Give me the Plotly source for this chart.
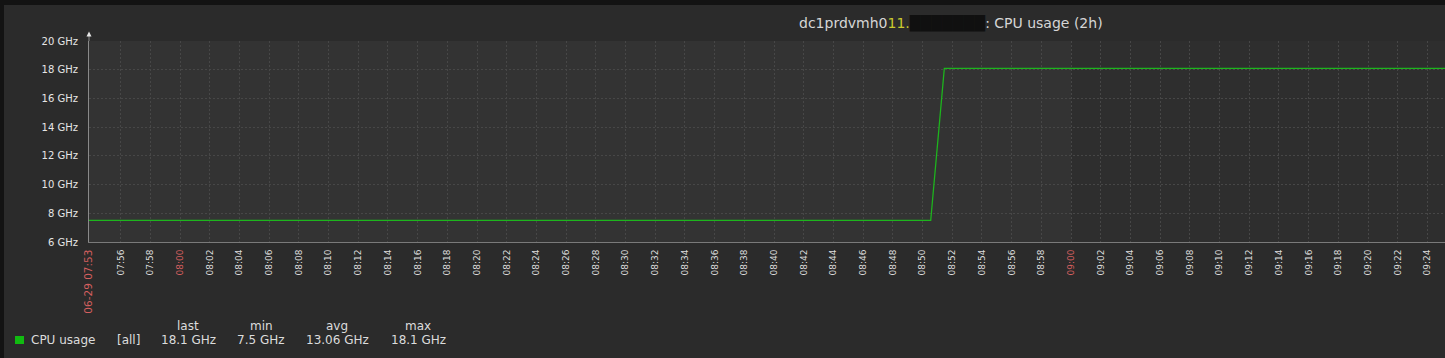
import plotly.graph_objects as go

# ---------------- data ----------------
times = ["2023-06-29 07:53:52", "2023-06-29 08:50:33", "2023-06-29 08:51:28", "2023-06-29 09:53:52"]
cpu_ghz = [7.5, 7.5, 18.1, 18.1]

y_ticks = [6, 8, 10, 12, 14, 16, 18, 20]
y_labels = ["6 GHz", "8 GHz", "10 GHz", "12 GHz", "14 GHz", "16 GHz", "18 GHz", "20 GHz"]

x_tick_times = ["07:53:52", "07:56", "07:58", "08:00", "08:02", "08:04", "08:06", "08:08", "08:10",
                "08:12", "08:14", "08:16", "08:18", "08:20", "08:22", "08:24", "08:26", "08:28",
                "08:30", "08:32", "08:34", "08:36", "08:38", "08:40", "08:42", "08:44", "08:46",
                "08:48", "08:50", "08:52", "08:54", "08:56", "08:58", "09:00", "09:02", "09:04",
                "09:06", "09:08", "09:10", "09:12", "09:14", "09:16", "09:18", "09:20", "09:22",
                "09:24"]
x_tick_labels = ["06-29 07:53"] + x_tick_times[1:]
highlight_labels = ["06-29 07:53", "08:00", "09:00"]

x_range = ["2023-06-29 07:53:52", "2023-06-29 09:25:11"]
offhours_start = "2023-06-29 09:00"

legend_name = "CPU usage"
legend_func = "[all]"
stat_names = ["last", "min", "avg", "max"]
stat_values = ["18.1 GHz", "7.5 GHz", "13.06 GHz", "18.1 GHz"]

# ---------------- layout geometry (pixels) ----------------
W, H = 1445, 358
L, R, T, B = 89, 0, 41, 116
PW, PH = W - L - R, H - T - B


def px(x):
    return (x - L) / PW


def py(y):
    return (H - B - y) / PH


RED = "#d45f5f"
TXT = "#dcdcdc"
GREEN = "#1db51d"
FONT = "DejaVu Sans"

tickvals = ["2023-06-29 " + t for t in x_tick_times]
ticktext = []
for i, t in enumerate(x_tick_labels):
    if t in highlight_labels:
        size = "font-size:10.5px;" if i == 0 else ""
        ticktext.append(f'<span style="color:{RED};{size}">{t}</span>')
    else:
        ticktext.append(t)

fig = go.Figure()
fig.add_trace(go.Scatter(x=times, y=cpu_ghz, mode="lines",
                         line=dict(color=GREEN, width=1.3), showlegend=False, hoverinfo="skip"))

shapes = [
    # off-hours darker region
    dict(type="rect", xref="x", yref="paper", x0=offhours_start, x1=x_range[1], y0=0, y1=1,
         fillcolor="#2e2e2e", line=dict(width=0), layer="below"),
    # dark outer border strips
    dict(type="rect", xref="paper", yref="paper", x0=px(0), x1=px(4), y0=py(0), y1=py(H),
         fillcolor="#131313", line=dict(width=0)),
    dict(type="rect", xref="paper", yref="paper", x0=px(0), x1=px(W), y0=py(0), y1=py(5),
         fillcolor="#131313", line=dict(width=0)),
    # y-axis extension with arrow
    dict(type="line", xref="paper", yref="paper", x0=0, x1=0, y0=1, y1=py(34),
         line=dict(color="#8a8a8a", width=1)),
    dict(type="path", xref="paper", yref="paper",
         path=f"M {px(86.5)} {py(36.5)} L {px(91.5)} {py(36.5)} L {px(89)} {py(31.5)} Z",
         fillcolor="#e6e6e6", line=dict(width=0)),
    # legend colour square
    dict(type="rect", xref="paper", yref="paper", x0=px(15), x1=px(24), y0=py(344), y1=py(336),
         fillcolor="#11bb11", line=dict(width=0)),
]

annotations = [
    dict(xref="paper", yref="paper", x=px(797), y=py(23), xanchor="left", yanchor="middle",
         showarrow=False, font=dict(family=FONT, size=14, color="#d6d6d6"),
         text='dc1prdvmh0<span style="color:#c9c92e">11.</span>'
              '<span style="color:#101010">\u2588\u2588\u2588\u2588\u2588\u2588\u2588</span>: CPU usage (2h)'),
    dict(xref="paper", yref="paper", x=px(29), y=py(340), xanchor="left", yanchor="middle",
         showarrow=False, font=dict(family=FONT, size=12, color=TXT), text=legend_name),
    dict(xref="paper", yref="paper", x=px(128), y=py(340), xanchor="center", yanchor="middle",
         showarrow=False, font=dict(family=FONT, size=12, color=TXT), text=legend_func),
]
stat_x = [188, 261, 337, 418]
for name, val, sx in zip(stat_names, stat_values, stat_x):
    annotations.append(dict(xref="paper", yref="paper", x=px(sx), y=py(326), xanchor="center",
                            yanchor="middle", showarrow=False,
                            font=dict(family=FONT, size=12, color=TXT), text=name))
    annotations.append(dict(xref="paper", yref="paper", x=px(sx), y=py(340), xanchor="center",
                            yanchor="middle", showarrow=False,
                            font=dict(family=FONT, size=12, color=TXT), text=val))

fig.update_layout(
    width=W, height=H,
    margin=dict(l=L, r=R, t=T, b=B, pad=0),
    paper_bgcolor="#2b2b2b", plot_bgcolor="#333333",
    font=dict(family=FONT, color=TXT),
    shapes=shapes, annotations=annotations,
    xaxis=dict(type="date", range=x_range, tickmode="array", tickvals=tickvals, ticktext=ticktext,
               tickangle=-90, tickfont=dict(family=FONT, size=9, color=TXT),
               showgrid=True, gridcolor="#474747", griddash="2px,2px", gridwidth=1,
               showline=True, linecolor="#7a7a7a", linewidth=1, zeroline=False,
               ticks="", ticklabelstandoff=3, fixedrange=True),
    yaxis=dict(range=[6, 20], tickmode="array", tickvals=y_ticks, ticktext=y_labels,
               tickfont=dict(family=FONT, size=10, color="#e6e6e6"),
               showgrid=True, gridcolor="#474747", griddash="2px,2px", gridwidth=1,
               showline=True, linecolor="#8a8a8a", linewidth=1, zeroline=False,
               ticks="", ticklabelstandoff=8, fixedrange=True),
)

fig.write_html("out.html")
